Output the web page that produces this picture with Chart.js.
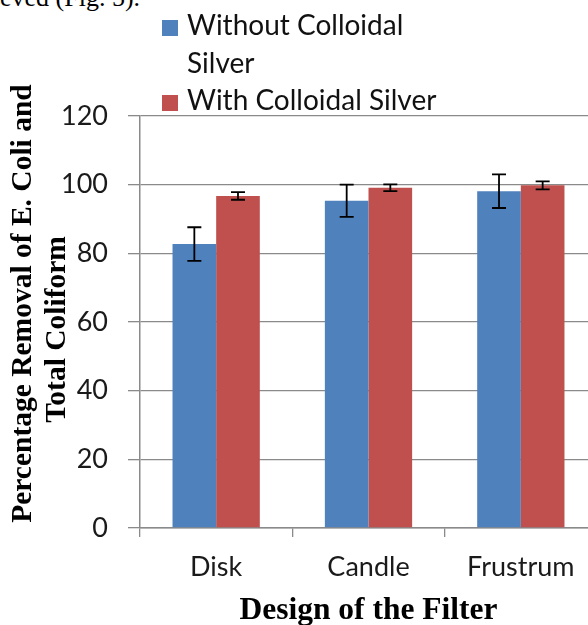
<!DOCTYPE html>
<html>
<head>
<meta charset="utf-8">
<script src="https://cdn.jsdelivr.net/npm/chart.js@4.4.1/dist/chart.umd.min.js"></script>
<style>
  html, body { margin: 0; padding: 0; background: #fff; overflow: hidden; width: 588px; height: 625px; }
  #wrap { position: absolute; left: 0; top: 0; width: 620px; height: 625px; }
  #topText { position: absolute; left: 0; top: -15px; font-family: 'Liberation Serif', serif; font-size: 26px; line-height: 26px; color: #000; white-space: nowrap; }
  #legend { position: absolute; left: 162px; top: 6.4px; font-family: Lato, sans-serif; font-size: 28px; line-height: 37.5px; color: #111; }
  .li { display: flex; align-items: flex-start; }
  .li .box { width: 16px; height: 16px; margin-top: 13.6px; margin-right: 9px; flex: none; }
  .li .txt { width: 262px; }
</style>
</head>
<body>
<div id="topText">eved (Fig. 5).</div>
<div id="wrap"><canvas id="c"></canvas></div>
<div id="legend"></div>
<script>
const categories = ['Disk', 'Candle', 'Frustrum'];
const seriesNames = ['Without Colloidal Silver', 'With Colloidal Silver'];
const withoutSilver = [82.7, 95.3, 98.1];
const withSilver = [96.7, 99.1, 99.8];
const withoutSilverErr = [4.9, 4.7, 4.9];
const withSilverErr = [1.1, 1.0, 1.15];
const yTicks = [0, 20, 40, 60, 80, 100, 120];
const yTitle = ['     Percentage Removal of E. Coli and', 'Total Coliform  '];
const xTitle = 'Design of the Filter';

const errorBars = {
  id: 'errorBars',
  afterDatasetsDraw(chart) {
    const ctx = chart.ctx;
    const y = chart.scales.y;
    ctx.save();
    ctx.strokeStyle = '#000';
    ctx.lineWidth = 1.8;
    chart.data.datasets.forEach((ds, di) => {
      const meta = chart.getDatasetMeta(di);
      meta.data.forEach((bar, i) => {
        const v = ds.data[i], e = ds.errors[i];
        const x = bar.x;
        const yt = y.getPixelForValue(v + e);
        const yb = y.getPixelForValue(v - e);
        ctx.beginPath();
        ctx.moveTo(x, yt); ctx.lineTo(x, yb);
        ctx.moveTo(x - 7, yt); ctx.lineTo(x + 7, yt);
        ctx.moveTo(x - 7, yb); ctx.lineTo(x + 7, yb);
        ctx.stroke();
      });
    });
    ctx.restore();
  }
};

const htmlLegend = {
  id: 'htmlLegend',
  afterUpdate(chart) {
    const el = document.getElementById('legend');
    el.innerHTML = '';
    const items = chart.options.plugins.legend.labels.generateLabels(chart);
    items.forEach(item => {
      const row = document.createElement('div');
      row.className = 'li';
      const box = document.createElement('span');
      box.className = 'box';
      box.style.background = item.fillStyle;
      const txt = document.createElement('span');
      txt.className = 'txt';
      txt.textContent = item.text;
      row.appendChild(box); row.appendChild(txt);
      el.appendChild(row);
    });
  }
};

const tickFont = { family: 'Lato', size: 27 };

new Chart(document.getElementById('c'), {
  type: 'bar',
  data: {
    labels: categories,
    datasets: [
      { label: seriesNames[0], data: withoutSilver, errors: withoutSilverErr, backgroundColor: '#4F81BD', borderWidth: 0 },
      { label: seriesNames[1], data: withSilver, errors: withSilverErr, backgroundColor: '#C0504D', borderWidth: 0 }
    ]
  },
  options: {
    responsive: true,
    maintainAspectRatio: false,
    animation: false,
    devicePixelRatio: 1,
    layout: { padding: { top: 116, right: 23, left: 0, bottom: 0 } },
    datasets: { bar: { barPercentage: 1, categoryPercentage: 0.573 } },
    plugins: {
      legend: { display: false },
      tooltip: { enabled: false }
    },
    scales: {
      x: {
        afterFit(s) { s.height = 97; },
        grid: { display: true, drawOnChartArea: false, drawTicks: true, tickLength: 9, color: '#8a8a8a', lineWidth: 1.3 },
        border: { display: true, color: '#8a8a8a', width: 1.5 },
        ticks: { font: tickFont, color: '#1a1a1a', padding: 14 },
        title: { display: true, text: xTitle, font: { family: 'Liberation Serif', size: 31.5, weight: 'bold', lineHeight: 1 }, color: '#000', padding: { top: 0, bottom: -2 } }
      },
      y: {
        min: 0, max: 120,
        afterFit(s) { s.width = 140; },
        afterBuildTicks(s) { s.ticks = yTicks.map(v => ({ value: v })); },
        grid: { color: '#8a8a8a', lineWidth: 1.3, tickLength: 12 },
        border: { display: true, color: '#8a8a8a', width: 1.5 },
        ticks: { font: tickFont, color: '#1a1a1a', padding: 20 },
        title: { display: true, text: yTitle, font: { family: 'Liberation Serif', size: 29.5, weight: 'bold', lineHeight: 1.153 }, color: '#000', padding: { top: 6, bottom: 0 } }
      }
    }
  },
  plugins: [errorBars, htmlLegend]
});
</script>
</body>
</html>
